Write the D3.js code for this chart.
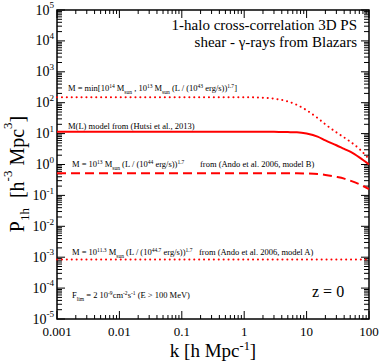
<!DOCTYPE html>
<html>
<head>
<meta charset="utf-8">
<script src="https://cdn.jsdelivr.net/npm/d3@7"></script>
<style>
  body { margin: 0; background: #fff; }
  svg { display: block; }
</style>
</head>
<body>
<div id="chart"></div>
<script>
// wavenumbers k [h/Mpc]
const kValues = [0.001, 0.01, 0.1, 1, 2, 3, 5, 7, 10, 15, 20, 30, 40, 50, 70, 100];

// P_1h for each mass-luminosity model
const pMinModel = [150, 150, 150, 150, 145, 135, 110, 85, 57, 32, 20, 11, 7.5, 5.5, 3.2, 1.5];
const pHutsi = [11.5, 11.5, 11.5, 11.5, 11.5, 11.4, 11.2, 11, 10, 8, 6, 4.2, 3.2, 2.6, 1.7, 1.0];
const pAndoB = [0.52, 0.52, 0.52, 0.52, 0.52, 0.52, 0.52, 0.52, 0.51, 0.49, 0.46, 0.4, 0.35, 0.3, 0.23, 0.16];
const pAndoA = [8.5e-4, 8.5e-4, 8.5e-4, 8.5e-4, 8.5e-4, 8.5e-4, 8.5e-4, 8.5e-4, 8.5e-4, 8.5e-4,
  8.5e-4, 8.5e-4, 8.5e-4, 8.5e-4, 8.5e-4, 8.5e-4];

const xTickValues = [0.001, 0.01, 0.1, 1, 10, 100];
const xTickLabels = ['0.001', '0.01', '0.1', '1', '10', '100'];
const yExponents = [-5, -4, -3, -2, -1, 0, 1, 2, 3, 4, 5];

const width = 379;
const height = 363;
const margin = { top: 10, right: 10, bottom: 44, left: 57 };
const plotW = width - margin.left - margin.right;
const plotH = height - margin.top - margin.bottom;

const svg = d3.select('#chart').append('svg')
    .attr('width', width)
    .attr('height', height)
    .attr('font-family', "'Liberation Serif', 'Times New Roman', 'DejaVu Serif', serif");

const x = d3.scaleLog().domain([0.001, 100]).range([0, plotW]);
const y = d3.scaleLog().domain([1e-5, 1e5]).range([plotH, 0]);

const plot = svg.append('g')
    .attr('transform', `translate(${margin.left}, ${margin.top})`);

/* Rich text: segments of [text, 'sup' | 'sub' | null] */
function richText(sel, parts, size, supShift = 0.4, subShift = 0.3) {
  let shift = 0;
  for (const [str, kind] of parts) {
    let target = kind === 'sup' ? -supShift * size : kind === 'sub' ? subShift * size : 0;
    sel.append('tspan')
        .attr('dy', target - shift)
        .attr('font-size', kind ? size * 0.65 : size)
        .text(str);
    shift = target;
  }
}

/* Minor tick values */
function minorTicks(lo, hi) {
  const out = [];
  for (let e = lo; e < hi; e++) {
    for (let m = 2; m <= 9; m++) out.push(m * Math.pow(10, e));
  }
  return out;
}

const xMinor = minorTicks(-3, 2);
const yMinor = minorTicks(-5, 5);
const yMajor = yExponents.map(e => Math.pow(10, e));

/* Axes with inward ticks on all four sides */
const axisG = plot.append('g').attr('class', 'axes');

function drawTicks(values, len, horizontal) {
  for (const v of values) {
    if (horizontal) {
      const px = x(v);
      axisG.append('line').attr('x1', px).attr('x2', px)
          .attr('y1', plotH).attr('y2', plotH - len);
      axisG.append('line').attr('x1', px).attr('x2', px)
          .attr('y1', 0).attr('y2', len);
    } else {
      const py = y(v);
      axisG.append('line').attr('x1', 0).attr('x2', len)
          .attr('y1', py).attr('y2', py);
      axisG.append('line').attr('x1', plotW).attr('x2', plotW - len)
          .attr('y1', py).attr('y2', py);
    }
  }
}

drawTicks(xTickValues, 8, true);
drawTicks(xMinor, 4, true);
drawTicks(yMajor, 8, false);
drawTicks(yMinor, 5, false);
axisG.selectAll('line').attr('stroke', '#000').attr('stroke-width', 1);

plot.append('rect')
    .attr('width', plotW)
    .attr('height', plotH)
    .attr('fill', 'none')
    .attr('stroke', '#000')
    .attr('stroke-width', 1.5);

/* Tick labels */
xTickValues.forEach((v, i) => {
  plot.append('text')
      .attr('x', x(v))
      .attr('y', plotH + 17)
      .attr('text-anchor', 'middle')
      .attr('font-size', 13)
      .text(xTickLabels[i]);
});

yExponents.forEach(e => {
  const t = plot.append('text')
      .attr('x', -3)
      .attr('y', y(Math.pow(10, e)) + 4.5)
      .attr('text-anchor', 'end');
  richText(t, [['10', null], [String(e), 'sup']], 14, 0.45);
});

/* Axis titles */
const xTitle = svg.append('text')
    .attr('x', margin.left + plotW / 2)
    .attr('y', 357)
    .attr('text-anchor', 'middle');
richText(xTitle, [['k [h Mpc', null], ['-1', 'sup'], [']', null]], 19, 0.38);

const yTitle = svg.append('text')
    .attr('transform', 'translate(24, 174) rotate(-90)')
    .attr('text-anchor', 'middle');
richText(yTitle, [['P', null], ['1h', 'sub'], ['\u00a0\u00a0[h', null], ['-3', 'sup'],
  ['\u00a0Mpc', null], ['3', 'sup'], [']', null]], 20, 0.6, 0.24);

/* Curves */
const line = d3.line()
    .x(d => x(d[0]))
    .y(d => y(d[1]))
    .curve(d3.curveMonotoneX);

const series = [
  { values: pMinModel, dash: '0.1 4.8', cap: 'round', w: 2 },
  { values: pHutsi, dash: null, cap: 'butt', w: 2 },
  { values: pAndoB, dash: '9 5', cap: 'butt', w: 2 },
  { values: pAndoA, dash: '0.1 4.8', cap: 'round', w: 2 },
];

const curvesG = plot.append('g');
for (const s of series) {
  curvesG.append('path')
      .datum(kValues.map((k, i) => [k, s.values[i]]))
      .attr('d', line)
      .attr('fill', 'none')
      .attr('stroke', '#ff0000')
      .attr('stroke-width', s.w)
      .attr('stroke-linecap', s.cap)
      .attr('stroke-dasharray', s.dash);
}

/* Annotations */
const noteSize = 8.5;
function note(px, py, parts, size) {
  const t = svg.append('text').attr('x', px).attr('y', py);
  richText(t, parts, size || noteSize);
  return t;
}

note(68, 91, [['M = min[10', null], ['14', 'sup'], [' M', null], ['sun', 'sub'],
  [' , 10', null], ['13', 'sup'], [' M', null], ['sun', 'sub'], [' (L / (10', null],
  ['43', 'sup'], [' erg/s))', null], ['1.7', 'sup'], [']', null]]);
note(68, 129, [['M(L) model from (Hutsi et al., 2013)', null]]);
note(72, 167, [['M = 10', null], ['13', 'sup'], [' M', null], ['sun', 'sub'],
  [' (L / (10', null], ['44', 'sup'], [' erg/s))', null], ['1.7', 'sup']]);
note(200, 167, [['from (Ando et al. 2006, model B)', null]]);
note(72, 255, [['M = 10', null], ['11.3', 'sup'], [' M', null], ['sun', 'sub'],
  [' (L / (10', null], ['44.7', 'sup'], [' erg/s))', null], ['1.7', 'sup']]);
note(199, 255, [['from (Ando et al. 2006, model A)', null]]);
note(72, 298, [['F', null], ['lim', 'sub'], [' = 2 10', null], ['-9', 'sup'], ['cm', null],
  ['-2', 'sup'], ['s', null], ['-1', 'sup'], [' (E > 100 MeV)', null]]);

svg.append('text')
    .attr('x', 312).attr('y', 297)
    .attr('font-size', 16)
    .text('z = 0');

svg.append('text')
    .attr('x', 357).attr('y', 30)
    .attr('text-anchor', 'end')
    .attr('font-size', 15)
    .text('1-halo cross-correlation 3D PS');
svg.append('text')
    .attr('x', 357).attr('y', 47)
    .attr('text-anchor', 'end')
    .attr('font-size', 15)
    .text('shear - \u03b3-rays from Blazars');
</script>
</body>
</html>
